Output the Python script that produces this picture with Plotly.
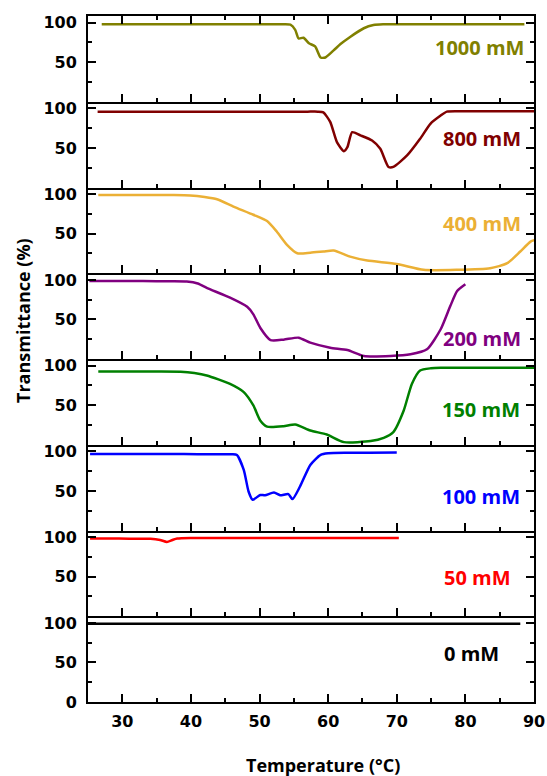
import plotly.graph_objects as go
from plotly.subplots import make_subplots

# ---------------- data ----------------
labels = ["1000 mM", "800 mM", "400 mM", "200 mM", "150 mM", "100 mM", "50 mM", "0 mM"]
colors = ["#808000", "#800000", "#EBB035", "#800080", "#008000", "#0000FF", "#FF0000", "#000000"]

t_1000 = [27, 31, 35, 39, 43, 47, 50, 52, 53.5, 54.5, 55.2, 55.7, 56.4, 57.2, 58.1, 58.9, 59.6, 60.8, 61.8, 63.2, 65.2, 66.6, 68, 70, 74, 78, 82, 86, 88.6]
y_1000 = [98, 98, 98, 98, 98, 98, 98, 98, 98, 97.5, 91, 80, 81, 74, 70, 56, 56, 65, 73, 82, 93, 97, 98, 98, 98, 98, 98, 98, 98]

t_800 = [26.4, 30, 34, 38, 42, 46, 50, 54, 57, 58.5, 59.3, 60.3, 61.3, 62.3, 62.8, 63.5, 64.7, 66.4, 67.6, 68.8, 69.5, 71.5, 73.4, 74.9, 76.4, 77.3, 79.3, 82, 86, 90]
y_800 = [96, 96, 96, 96, 96, 96, 96, 96, 96, 96, 95, 83, 57, 46, 51, 70, 66, 59.5, 49, 26, 26, 40.5, 61.6, 80.6, 91, 96, 96.5, 96.5, 96.5, 96.5]

t_400 = [26.5, 30, 34, 37.5, 39.9, 42, 43.8, 46.2, 49.1, 51.1, 52.5, 54, 55.5, 57.4, 59.3, 60.8, 63.2, 65.7, 70, 73.9, 78.8, 83.6, 86.1, 88, 89.5, 90.5]
y_400 = [99, 99, 99, 99, 98.5, 96.5, 93.7, 84.4, 74, 66, 52.8, 36, 25.3, 26, 27.5, 28.7, 21, 16, 11.8, 4.3, 4.3, 6.3, 12.7, 27.5, 40, 43]

t_200 = [25.2, 29, 33, 37, 39.4, 41, 42.3, 45.7, 48.2, 49.1, 50.1, 51.6, 53.5, 55.7, 57.4, 60.3, 62.8, 65.2, 69.1, 72, 74.4, 76.4, 77.8, 78.8, 80]
y_200 = [98.7, 98.7, 98.6, 98.3, 98, 95.5, 90, 77.6, 66, 56.5, 39.6, 24, 24.5, 27, 20.7, 14.3, 11.4, 3.8, 3.8, 5.9, 12.2, 37.6, 67, 86, 94.5]

t_150 = [26.5, 30, 34, 38.5, 40.5, 42.3, 45.7, 47.7, 49.1, 50.1, 51.1, 53.5, 55.2, 57.4, 59.8, 62.3, 66.2, 68.1, 69.5, 71, 72.2, 73.4, 75, 76.4, 80, 85, 90]
y_150 = [92.8, 92.8, 92.7, 92.5, 90.8, 87.7, 77, 66.6, 49.7, 30.8, 23, 23.5, 25.7, 18, 13, 3.3, 4.6, 8.8, 16, 43, 77, 94, 96.8, 97.4, 97.5, 97.5, 97.5]

t_100 = [25.3, 29, 33, 37, 41, 44, 46, 46.7, 47.7, 48.4, 49, 50.1, 50.8, 52.1, 53, 54.2, 54.8, 55.9, 57.4, 58.9, 60, 63, 66, 70]
y_100 = [96.7, 96.7, 96.7, 96.7, 96.6, 96.6, 96.5, 95.5, 76.8, 49.4, 38.9, 45, 44.6, 48, 44.6, 46, 39.7, 55.7, 83, 95.8, 97.8, 98.3, 98.5, 98.7]

t_50 = [25.3, 28, 31, 34.1, 35.5, 36.5, 37.3, 38, 40, 43, 47, 51, 55, 59, 63, 67, 70.3]
y_50 = [98.3, 98.3, 98.2, 98, 96.5, 94, 96.5, 98.3, 99, 99, 99, 99, 99, 99, 99, 99, 99]

t_0 = [25, 40, 60, 88]
y_0 = [99, 99, 99, 99]

x_ticks = [30, 40, 50, 60, 70, 80, 90]
y_ticks_upper = [50, 100]
y_ticks_bottom = [0, 50, 100]

series = [(t_1000, y_1000), (t_800, y_800), (t_400, y_400), (t_200, y_200),
          (t_150, y_150), (t_100, y_100), (t_50, y_50), (t_0, y_0)]

# ---------------- figure ----------------
W, H = 547, 776
ML, MR, MT, MB = 88, 13, 16, 74
PW, PH = W - ML - MR, H - MT - MB

n = len(series)
fig = make_subplots(rows=n, cols=1, shared_xaxes=True, vertical_spacing=0)

for i, ((t, y), c) in enumerate(zip(series, colors)):
    fig.add_trace(go.Scatter(x=t, y=y, mode="lines",
                             line=dict(color=c, width=2.5, shape="spline", smoothing=0.6),
                             showlegend=False, hoverinfo="skip"), row=i + 1, col=1)

tickfont = dict(family="DejaVu Sans", size=16, color="black", weight="bold")
for i in range(n):
    r = i + 1
    fig.update_xaxes(range=[25, 90], tickvals=x_ticks, ticks="inside", ticklen=8, tickwidth=2,
                     minor=dict(dtick=5, tick0=25, ticks="inside", ticklen=4, tickwidth=2, tickcolor="black"),
                     showline=True, linewidth=2, linecolor="black", tickcolor="black",
                     mirror="ticks" if r == 1 else False, showgrid=False, zeroline=False,
                     automargin=False, ticklabeloverflow="allow",
                     tickfont=tickfont, ticklabelstandoff=4, row=r, col=1)
    fig.update_yaxes(range=[0, 108.5], tickvals=y_ticks_bottom if r == n else y_ticks_upper,
                     ticks="inside", ticklen=8, tickwidth=2, tickcolor="black",
                     minor=dict(tickvals=[25, 75], ticks="inside", ticklen=4, tickwidth=2, tickcolor="black"),
                     showline=True, linewidth=2, linecolor="black", mirror="ticks",
                     showgrid=False, zeroline=False, automargin=False, ticklabeloverflow="allow",
                     tickfont=tickfont, ticklabelstandoff=6,
                     row=r, col=1)


def px2paper(px, py):
    return (px - ML) / PW, (H - MB - py) / PH


label_pos = [(525.7, 47.5), (523, 139), (523.3, 223.7), (523.3, 338), (521.7, 409.5),
             (521.7, 496.7), (513.3, 577.5), (500.7, 653.3)]
annotations = []
for lab, c, (px, py) in zip(labels, colors, label_pos):
    ax, ay = px2paper(px, py)
    annotations.append(dict(x=ax, y=ay, xref="paper", yref="paper", text=lab, showarrow=False,
                            xanchor="right", yanchor="middle",
                            font=dict(family="Open Sans", size=20, color=c, weight="bold")))

tx, ty = px2paper(323, 765)
annotations.append(dict(x=tx, y=ty, xref="paper", yref="paper", text="Temperature (°C)",
                        showarrow=False, xanchor="center", yanchor="middle",
                        font=dict(family="Open Sans", size=18, color="black", weight="bold")))
yx, yy = px2paper(23, 321)
annotations.append(dict(x=yx, y=yy, xref="paper", yref="paper", text="Transmittance (%)",
                        showarrow=False, xanchor="center", yanchor="middle", textangle=-90,
                        font=dict(family="Open Sans", size=18, color="black", weight="bold")))

fig.update_layout(width=W, height=H, margin=dict(l=ML, r=MR, t=MT, b=MB),
                  paper_bgcolor="white", plot_bgcolor="white",
                  annotations=annotations)

fig.write_html("out.html")
